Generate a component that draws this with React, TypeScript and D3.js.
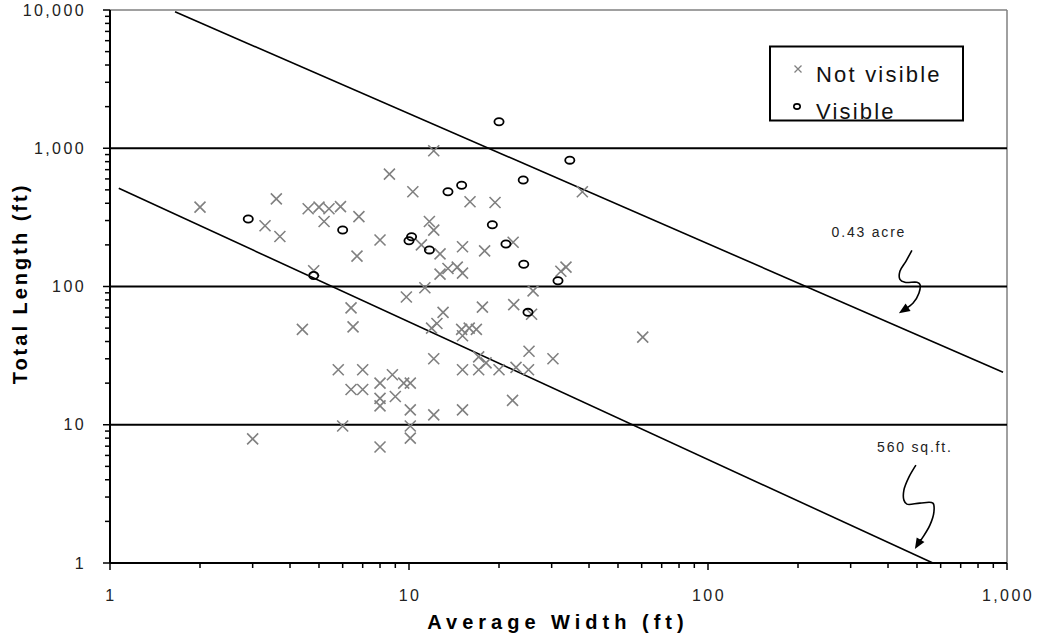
import React from "react";
import * as d3 from "d3";

// [average width (ft), total length (ft)]
const notVisible: [number, number][] = [
  [2.0, 375], [3.6, 430], [3.3, 275], [3.7, 230], [4.6, 365], [5.0, 375], [5.4, 365], [5.9, 378],
  [5.2, 295], [6.8, 320], [6.7, 166], [4.8, 130], [6.4, 70], [6.5, 51], [4.4, 49], [8.6, 650],
  [10.3, 485], [8.0, 217], [9.8, 84], [12.1, 960], [38, 485], [16, 410], [19.4, 405], [11.7, 295],
  [12.1, 256], [11.0, 200], [12.7, 172], [15.1, 194], [17.9, 181], [22.3, 209], [13.5, 135], [14.5, 138],
  [12.7, 123], [15.1, 125], [32.2, 129], [33.5, 138], [11.3, 98], [26, 93], [13, 65], [17.6, 71],
  [22.4, 74], [25.7, 63], [12.4, 54], [11.9, 50], [15, 49], [15.9, 50], [16.8, 49], [15.1, 44],
  [25.2, 34], [30.3, 30], [12.1, 30], [17.1, 31], [18.1, 28], [15.1, 25], [17.1, 25], [20, 25],
  [22.8, 26], [25.1, 25], [5.8, 25], [7.0, 25], [8.8, 23], [8.0, 20], [9.6, 20], [10.1, 20],
  [6.4, 18], [7.0, 18], [8.0, 15.5], [9.0, 16], [8.0, 13.7], [10.1, 12.8], [12.1, 11.8], [15.1, 12.8],
  [22.2, 15], [6.0, 9.8], [10.1, 9.8], [10.1, 8.0], [8.0, 6.9], [3.0, 7.9], [60.5, 43],
];

const visible: [number, number][] = [
  [2.9, 308], [6.0, 256], [4.8, 120], [10.0, 214], [10.2, 229], [20, 1555], [34.5, 820], [24.1, 590],
  [15, 540], [13.5, 485], [19, 280], [11.7, 184], [21.1, 203], [24.2, 145], [31.5, 110], [25, 65],
];

const xTickValues = [1, 10, 100, 1000];
const xTickLabels = ["1", "10", "100", "1,000"];
const yTickValues = [1, 10, 100, 1000, 10000];
const yTickLabels = ["1", "10", "100", "1,000", "10,000"];
const gridValues = [10, 100, 1000];

const lineNames = ["0.43 acre", "560 sq.ft."];
const lineWidths = [[1.65, 970], [1.07, 565]];
const lineLengths = [[9700, 24], [513, 1]];
// arrow tip of each annotation, in data units
const annotationTips: [number, number][] = [[435, 64], [492, 1.26]];

const legendLabels = ["Not visible", "Visible"];

const FONT = "'Liberation Sans', Arial, sans-serif";

const W = 1042;
const H = 641;
const left = 110, right = 1007, top = 10, bottom = 563;

// squiggle shape (pixel offsets from tip) for each annotation
const squiggles: [number, number][][] = [
  [[13, -63], [7, -52], [1, -42], [1, -34], [6, -31], [18, -31], [21, -29], [20, -20], [14, -10], [6, -4]],
  [[1, -84], [-6, -72], [-11, -59], [-11, -49], [-8, -45], [5, -46], [18, -46], [19, -37], [15, -24], [8, -12], [3, -5]],
];
const textOffsets: [number, number][] = [[-30, -76], [0, -97]];

export default function App() {
  const x = d3.scaleLog().domain([1, 1000]).range([left, right]);
  const y = d3.scaleLog().domain([1, 10000]).range([bottom, top]);

  const xMinor: number[] = [];
  for (let d = 1; d < 1000; d *= 10) for (let k = 2; k <= 9; k++) xMinor.push(d * k);
  const yMinor: number[] = [];
  for (let d = 1; d < 10000; d *= 10) for (let k = 2; k <= 9; k++) yMinor.push(d * k);

  const curve = d3.line<[number, number]>().x((d) => d[0]).y((d) => d[1]).curve(d3.curveCatmullRom.alpha(0.5));

  return (
    <svg width={W} height={H} style={{ position: "absolute", left: 0, top: 0, background: "#fff" }} fontFamily={FONT}>
      <rect x={0} y={0} width={W} height={H} fill="#fff" />
      {/* plot border (gray) */}
      <line x1={left} x2={right} y1={top} y2={top} stroke="#808080" strokeWidth={1.5} />
      <line x1={right} x2={right} y1={top} y2={bottom} stroke="#808080" strokeWidth={1.5} />
      {/* gridlines */}
      {gridValues.map((g) => (
        <line key={g} x1={left} x2={right} y1={y(g)} y2={y(g)} stroke="#000" strokeWidth={1.8} />
      ))}
      {/* area lines */}
      {lineNames.map((n, i) => (
        <line key={n} x1={x(lineWidths[i][0])} y1={y(lineLengths[i][0])} x2={x(lineWidths[i][1])} y2={y(lineLengths[i][1])} stroke="#000" strokeWidth={1.6} />
      ))}
      {/* not visible markers */}
      {notVisible.map(([w, l], i) => {
        const cx = x(w), cy = y(l), s = 5.5;
        return (
          <path key={"n" + i} d={`M${cx - s},${cy - s}L${cx + s},${cy + s}M${cx - s},${cy + s}L${cx + s},${cy - s}`} stroke="#808080" strokeWidth={1.6} fill="none" />
        );
      })}
      {/* visible markers */}
      {visible.map(([w, l], i) => (
        <ellipse key={"v" + i} cx={x(w)} cy={y(l)} rx={4.6} ry={3.6} fill="none" stroke="#000" strokeWidth={1.8} />
      ))}
      {/* axes */}
      <line x1={left} x2={left} y1={top} y2={bottom} stroke="#000" strokeWidth={2} />
      <line x1={left} x2={right} y1={bottom} y2={bottom} stroke="#000" strokeWidth={2} />
      {yTickValues.map((v) => (
        <line key={"yt" + v} x1={left - 7} x2={left} y1={y(v)} y2={y(v)} stroke="#000" strokeWidth={1.5} />
      ))}
      {yMinor.map((v) => (
        <line key={"ym" + v} x1={left - 5} x2={left} y1={y(v)} y2={y(v)} stroke="#000" strokeWidth={1.5} />
      ))}
      {xTickValues.map((v) => (
        <line key={"xt" + v} x1={x(v)} x2={x(v)} y1={bottom} y2={bottom + 7} stroke="#000" strokeWidth={1.5} />
      ))}
      {xMinor.map((v) => (
        <line key={"xm" + v} x1={x(v)} x2={x(v)} y1={bottom} y2={bottom + 5} stroke="#000" strokeWidth={1.5} />
      ))}
      {yTickValues.map((v, i) => (
        <text key={"yl" + v} x={86} y={y(v) + 5.5} textAnchor="end" fontSize={16} letterSpacing={2.4} fill="#222">
          {yTickLabels[i]}
        </text>
      ))}
      {xTickValues.map((v, i) => (
        <text key={"xl" + v} x={x(v) + 1} y={601} textAnchor="middle" fontSize={16} letterSpacing={2.4} fill="#222">
          {xTickLabels[i]}
        </text>
      ))}
      {/* axis titles */}
      <text x={558} y={629} textAnchor="middle" fontSize={20} fontWeight="bold" letterSpacing={5} fill="#000">
        Average Width (ft)
      </text>
      <text transform={`translate(27,${(top + bottom) / 2 - 3}) rotate(-90)`} textAnchor="middle" fontSize={20} fontWeight="bold" letterSpacing={3} fill="#000">
        Total Length (ft)
      </text>
      {/* annotations */}
      {lineNames.map((n, i) => {
        const tx = x(annotationTips[i][0]);
        const ty = y(annotationTips[i][1]);
        const pts = squiggles[i].map(([dx, dy]) => [tx + dx, ty + dy] as [number, number]);
        const last = pts[pts.length - 1];
        const ang = Math.atan2(ty - last[1], tx - last[0]);
        const len = 11, half = 4.5;
        const bx = tx - len * Math.cos(ang), by = ty - len * Math.sin(ang);
        const px = -Math.sin(ang) * half, py = Math.cos(ang) * half;
        return (
          <g key={"a" + n}>
            <path d={curve([...pts, [bx, by]]) || ""} fill="none" stroke="#000" strokeWidth={1.6} />
            <path d={`M${tx},${ty}L${bx + px},${by + py}L${bx - px},${by - py}Z`} fill="#000" />
            <text x={tx + textOffsets[i][0]} y={ty + textOffsets[i][1]} textAnchor="middle" fontSize={14} letterSpacing={1.8} fill="#222">
              {n}
            </text>
          </g>
        );
      })}
      {/* legend */}
      <rect x={770} y={46.5} width={193} height={74} fill="#fff" stroke="#000" strokeWidth={2} />
      <path d="M794.5,65.5L801.5,72.5M794.5,72.5L801.5,65.5" stroke="#808080" strokeWidth={1.3} />
      <ellipse cx={797} cy={106.5} rx={3.2} ry={2.6} fill="none" stroke="#000" strokeWidth={1.6} />
      <text x={816} y={82} fontSize={22} letterSpacing={2.2} fill="#111">{legendLabels[0]}</text>
      <text x={816} y={119} fontSize={22} letterSpacing={2.2} fill="#111">{legendLabels[1]}</text>
    </svg>
  );
}
